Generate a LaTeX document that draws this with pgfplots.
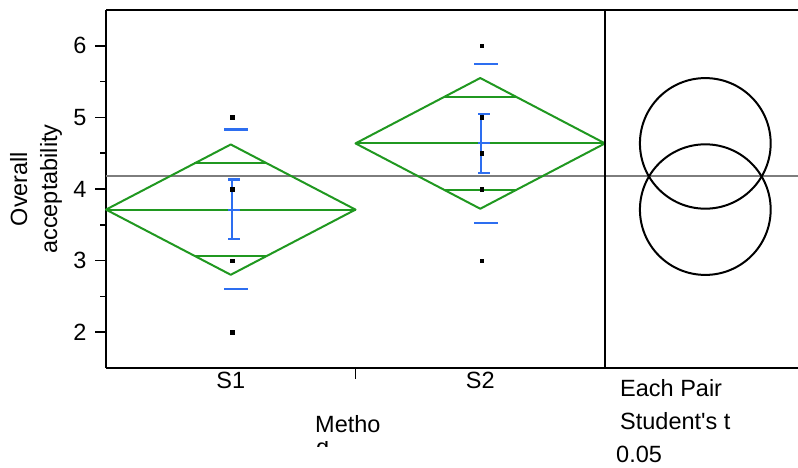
\documentclass[border=0pt]{standalone}
\usepackage{fontspec}
\setmainfont{Liberation Sans}[Ligatures=TeXOff]
\usepackage{graphicx}
\usepackage{pgfplots}
\pgfplotsset{compat=1.18}
\definecolor{jgreen}{RGB}{32,152,32}
\definecolor{jblue}{RGB}{45,110,240}
\definecolor{jgray}{RGB}{125,125,125}
\newcommand{\fs}{\fontsize{23.5}{30}\selectfont}
\begin{document}
\begin{tikzpicture}
\begin{axis}[
  at={(106pt,100pt)}, anchor=south west,
  width=692pt, height=358pt, scale only axis,
  xmin=0, xmax=2.7735, ymin=1.5, ymax=6.5,
  axis x line*=bottom, axis y line*=left,
  axis line style={line width=2pt, black, -},
  xtick={1}, xticklabels={},
  extra x ticks={0.5,1.5}, extra x tick labels={S1,S2},
  extra x tick style={major tick length=0pt},
  xticklabel style={yshift=-1pt},
  ytick={2,3,4,5,6}, minor y tick num=1,
  yticklabel style={xshift=-5pt},
  tick align=outside, major tick length=11pt, minor tick length=6pt,
  tick style={black, line width=1.6pt},
  tick label style={font=\fs},
  /pgf/number format/assume math mode=true,
  clip=false,
]
% grand mean
\addplot[jgray, line width=2pt] coordinates {(0,4.176) (2.7735,4.176)};
% S1 diamond
\addplot[jgreen, line width=2pt, line join=round, line cap=round] coordinates {(0,3.712) (0.5,4.622) (1,3.712) (0.5,2.802) (0,3.712)};
\addplot[jgreen, line width=2pt] coordinates {(0,3.712) (1,3.712)};
\addplot[jgreen, line width=2pt] coordinates {(0.354,4.358) (0.646,4.358)};
\addplot[jgreen, line width=2pt] coordinates {(0.354,3.066) (0.646,3.066)};
% S2 diamond
\addplot[jgreen, line width=2pt, line join=round, line cap=round] coordinates {(1,4.637) (1.5,5.55) (2,4.637) (1.5,3.724) (1,4.637)};
\addplot[jgreen, line width=2pt] coordinates {(1,4.637) (2,4.637)};
\addplot[jgreen, line width=2pt] coordinates {(1.355,5.285) (1.645,5.285)};
\addplot[jgreen, line width=2pt] coordinates {(1.355,3.989) (1.645,3.989)};
% S1 std dev lines
\addplot[jblue, line width=2.2pt] coordinates {(0.473,4.832) (0.569,4.832)};
\addplot[jblue, line width=2.2pt] coordinates {(0.473,2.602) (0.569,2.602)};
% S1 std error bar
\addplot[jblue, line width=2.2pt] coordinates {(0.506,3.305) (0.506,4.132)};
\addplot[jblue, line width=2.2pt] coordinates {(0.489,4.132) (0.537,4.132)};
\addplot[jblue, line width=2.2pt] coordinates {(0.489,3.305) (0.537,3.305)};
\addplot[jblue, line width=2.2pt] coordinates {(0.489,3.712) (0.537,3.712)};
% S2 std dev lines
\addplot[jblue, line width=2.2pt] coordinates {(1.475,5.747) (1.570,5.747)};
\addplot[jblue, line width=2.2pt] coordinates {(1.475,3.527) (1.570,3.527)};
% S2 std error bar
\addplot[jblue, line width=2.2pt] coordinates {(1.503,4.222) (1.503,5.052)};
\addplot[jblue, line width=2.2pt] coordinates {(1.491,5.052) (1.539,5.052)};
\addplot[jblue, line width=2.2pt] coordinates {(1.491,4.222) (1.539,4.222)};
\addplot[jblue, line width=2.2pt] coordinates {(1.491,4.637) (1.539,4.637)};
% data points
\addplot[only marks, mark=square*, mark size=1.8pt, black] coordinates {(0.506,2) (0.506,3) (0.506,4) (0.506,5)};
\addplot[only marks, mark=square*, mark size=1.8pt, black] coordinates {(1.506,3) (1.506,4) (1.506,4.5) (1.506,5) (1.506,6)};
% frame pieces
\draw[line width=2pt] (rel axis cs:0,1) -- (rel axis cs:1,1);
\draw[line width=2pt] (axis cs:2,1.5) -- (axis cs:2,6.5);
% comparison circles
\draw[line width=2pt] (axis cs:2.402,4.637) ellipse [x radius=0.262, y radius=0.912];
\draw[line width=2pt] (axis cs:2.402,3.712) ellipse [x radius=0.262, y radius=0.912];
\end{axis}
\node[rotate=90, align=center, font=\fs, inner sep=0pt] at (36pt,279pt) {Overall\\acceptability};
\node[anchor=base west, font=\fs, inner sep=0pt] at (315pt,35.7pt) {Metho};
\begin{scope}
\clip (312pt,21pt) rectangle (335pt,26.5pt);
\node[anchor=base west, font=\fs, inner sep=0pt] at (316pt,12pt) {d};
\end{scope}
\node[anchor=base west, font=\fs, inner sep=0pt] at (620pt,71.5pt) {Each Pair};
\node[anchor=base west, font=\fs, inner sep=0pt] at (620pt,38pt) {Student's t};
\node[anchor=base west, font=\fs, inner sep=0pt] at (616pt,5pt) {0.05};
\pgfresetboundingbox
\useasboundingbox (0,0) rectangle (798pt,468pt);
\end{tikzpicture}
\end{document}
